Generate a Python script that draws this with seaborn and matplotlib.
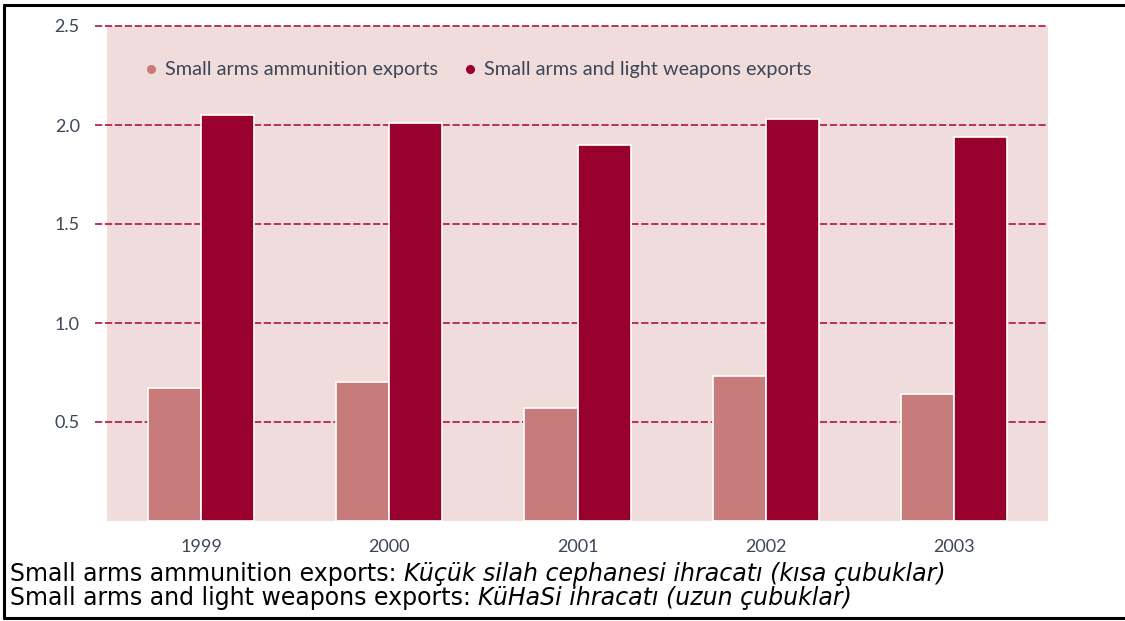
import matplotlib
matplotlib.use("Agg")
import matplotlib.pyplot as plt
from matplotlib.lines import Line2D
import seaborn as sns
import pandas as pd

years = ["1999", "2000", "2001", "2002", "2003"]
ammunition = [0.67, 0.70, 0.57, 0.73, 0.64]
salw = [2.05, 2.01, 1.90, 2.03, 1.94]
series_names = ["Small arms ammunition exports", "Small arms and light weapons exports"]
y_ticks = [0.5, 1.0, 1.5, 2.0, 2.5]
y_tick_labels = ["0.5", "1.0", "1.5", "2.0", "2.5"]
note_labels = ["Small arms ammunition exports: ", "Small arms and light weapons exports: "]
note_translations = ["Küçük silah cephanesi ihracatı (kısa çubuklar)", "KüHaSi ihracatı (uzun çubuklar)"]

df = pd.DataFrame({
    "year": years * 2,
    "value": ammunition + salw,
    "series": [series_names[0]] * len(years) + [series_names[1]] * len(years),
})

sns.set_theme(style="white")
plt.rcParams["font.family"] = ["Lato", "DejaVu Sans"]

W, H = 1125, 621
fig = plt.figure(figsize=(W / 100, H / 100), dpi=100)
fig.patch.set_facecolor("white")

def px(x0, y0, x1, y1):
    return [x0 / W, 1 - y1 / H, (x1 - x0) / W, (y1 - y0) / H]

ax = fig.add_axes(px(95, 26, 1048, 521))
ax.set_facecolor("white")

light = "#c77b7a"
dark = "#98002e"
pink = "#f1dcdc"
grid_c = "#b2264f"
txt_c = "#3c4656"

sns.barplot(data=df, x="year", y="value", hue="series", order=years,
            hue_order=series_names, palette=[light, dark], width=0.565,
            edgecolor="white", linewidth=1.2, saturation=1, legend=False, ax=ax)

for p in ax.patches:
    p.set_zorder(2)

ax.axvspan(-0.5, 4.5, ymin=0, ymax=1, color=pink, zorder=0, lw=0)
ax.set_xlim(-0.5 - 12 / 188, 4.5)
ax.set_ylim(0, 2.5)
ax.set_yticks(y_ticks)
ax.set_yticklabels(y_tick_labels)
ax.yaxis.grid(True, color=grid_c, linestyle=(0, (4, 1.5)), linewidth=1.3, zorder=1)
for gl in ax.get_ygridlines():
    gl.set_clip_on(False)
    gl.set_zorder(1)
ax.xaxis.grid(False)
for s in ax.spines.values():
    s.set_visible(False)
ax.tick_params(axis="y", length=0, pad=11, labelsize=13, labelcolor=txt_c)
ax.tick_params(axis="x", length=0, pad=13, labelsize=13, labelcolor=txt_c)
ax.set_xlabel("")
ax.set_ylabel("")

handles = [Line2D([], [], marker="o", linestyle="none", markersize=5.5,
                  markerfacecolor=c, markeredgecolor=c) for c in (light, dark)]
leg = ax.legend(handles, series_names, ncol=2, frameon=False, loc="center left",
                bbox_to_anchor=((145 - 95) / (1048 - 95), (521 - 70) / (521 - 26)),
                handlelength=0.6, handletextpad=0.42, columnspacing=1.28,
                borderaxespad=0, borderpad=0, fontsize=14.3)
for t in leg.get_texts():
    t.set_color(txt_c)

# Notes below chart: fit the first line's width to the reference span
fig.canvas.draw()
renderer = fig.canvas.get_renderer()
note_family = "DejaVu Sans"
base_fs = 16.0
probe1 = fig.text(0, 0, note_labels[0], family=note_family, fontsize=base_fs)
probe2 = fig.text(0, 0, note_translations[0], family=note_family, fontsize=base_fs, style="italic")
w = probe1.get_window_extent(renderer).width + probe2.get_window_extent(renderer).width
probe1.remove()
probe2.remove()
note_fs = base_fs * (948 - 10) / w

baselines = [581, 605.5]
for lab, tr, ybpx in zip(note_labels, note_translations, baselines):
    yb = 1 - ybpx / H
    t1 = fig.text(10 / W, yb, lab, family=note_family, fontsize=note_fs,
                  color="black", va="baseline", ha="left")
    bb = t1.get_window_extent(renderer)
    fig.text(bb.x1 / W, yb, tr, family=note_family, fontsize=note_fs,
             style="italic", color="black", va="baseline", ha="left")

# Outer box lines
lw = 2.2
fig.add_artist(Line2D([4 / W, 4 / W], [1 - 5 / H, 1 - 618 / H], color="black", lw=lw,
                      transform=fig.transFigure))
fig.add_artist(Line2D([4 / W, 1.0], [1 - 5 / H, 1 - 5 / H], color="black", lw=lw,
                      transform=fig.transFigure))
fig.add_artist(Line2D([4 / W, 1.0], [1 - 618 / H, 1 - 618 / H], color="black", lw=lw,
                      transform=fig.transFigure))

fig.savefig("out.png", dpi=100, facecolor="white")
